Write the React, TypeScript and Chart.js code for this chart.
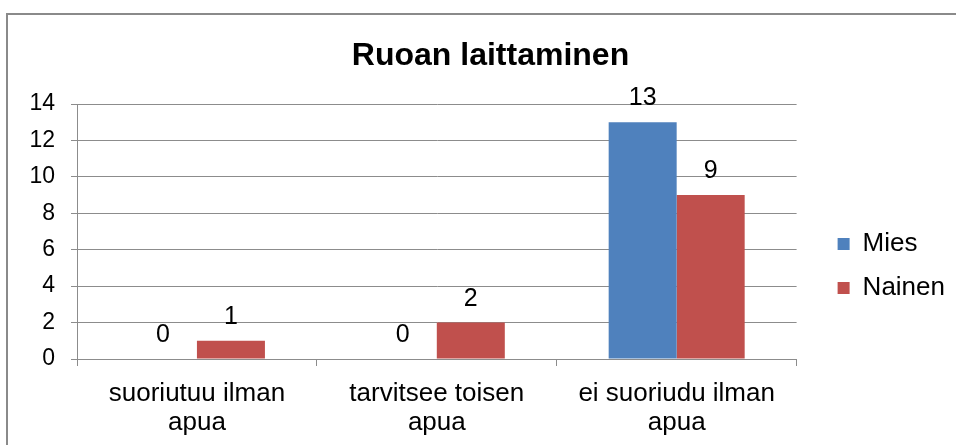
import React, { useEffect, useRef } from "react";
import { Chart, registerables } from "chart.js";

Chart.register(...registerables);

const chartTitle = "Ruoan laittaminen";
const categories: string[][] = [
  ["suoriutuu ilman", "apua"],
  ["tarvitsee toisen", "apua"],
  ["ei suoriudu ilman", "apua"],
];
const seriesNames = ["Mies", "Nainen"];
const miesValues = [0, 0, 13];
const nainenValues = [1, 2, 9];
const seriesColors = ["#4f81bd", "#c0504d"];
const yMin = 0;
const yMax = 14;
const yStep = 2;

const FONT = "'Liberation Sans', Arial, sans-serif";
const GRID = "#8c8c8c";
const CANVAS_W = 955;
const CANVAS_H = 532;

const dataLabels = {
  id: "dataLabels",
  afterDatasetsDraw(chart: any) {
    const ctx = chart.ctx;
    ctx.save();
    ctx.font = `25px ${FONT}`;
    ctx.fillStyle = "#000";
    ctx.textAlign = "center";
    ctx.textBaseline = "alphabetic";
    chart.data.datasets.forEach((ds: any, i: number) => {
      const meta = chart.getDatasetMeta(i);
      meta.data.forEach((el: any, j: number) => {
        ctx.fillText(String(ds.data[j]), el.x, el.y - 17);
      });
    });
    ctx.restore();
  },
};

const whiteBg = {
  id: "whiteBg",
  beforeDraw(chart: any) {
    const ctx = chart.ctx;
    ctx.save();
    ctx.fillStyle = "#fff";
    ctx.fillRect(0, 0, chart.width, chart.height);
    ctx.restore();
  },
};

export default function App() {
  const ref = useRef<HTMLCanvasElement | null>(null);

  useEffect(() => {
    if (!ref.current) return;
    const chart = new Chart(ref.current, {
      type: "bar",
      data: {
        labels: categories,
        datasets: [
          {
            label: seriesNames[0],
            data: miesValues,
            backgroundColor: seriesColors[0],
            borderWidth: 0,
          },
          {
            label: seriesNames[1],
            data: nainenValues,
            backgroundColor: seriesColors[1],
            borderWidth: 0,
          },
        ],
      },
      options: {
        responsive: false,
        animation: false,
        devicePixelRatio: 1,
        layout: { padding: { left: 26, top: 0, right: 0, bottom: 0 } },
        datasets: {
          bar: { categoryPercentage: 0.567, barPercentage: 1 },
        },
        plugins: {
          title: {
            display: true,
            text: chartTitle,
            color: "#000",
            font: { family: FONT, size: 32, weight: "bold", lineHeight: 1.2 },
            padding: { top: 37, bottom: 28.6 },
          },
          legend: {
            display: true,
            position: "right",
            labels: {
              color: "#000",
              font: { family: FONT, size: 26 },
              boxWidth: 12,
              boxHeight: 12,
              padding: 18,
            },
          },
          tooltip: { enabled: false },
        },
        scales: {
          x: {
            grid: {
              display: true,
              drawOnChartArea: false,
              drawTicks: true,
              tickLength: 7,
              color: GRID,
              offset: true,
            },
            border: { display: true, color: GRID },
            ticks: {
              color: "#000",
              font: { family: FONT, size: 26, lineHeight: 1.1 },
              padding: 14,
              maxRotation: 0,
              autoSkip: false,
            },
            afterFit: (s: any) => {
              s.height = CANVAS_H - 359;
            },
          },
          y: {
            min: yMin,
            max: yMax,
            grid: { color: GRID, tickLength: 6, drawTicks: true },
            border: { display: true, color: GRID },
            ticks: {
              stepSize: yStep,
              color: "#000",
              font: { family: FONT, size: 23 },
              padding: 16,
            },
            afterFit: (s: any) => {
              s.width = 77 - 26;
            },
          },
          gap: {
            type: "linear",
            position: "right",
            display: true,
            grid: { display: false },
            border: { display: false },
            ticks: { display: false },
            afterFit: (s: any) => {
              s.width = 23;
            },
          },
        },
      } as any,
      plugins: [whiteBg, dataLabels],
    });
    return () => chart.destroy();
  }, []);

  return (
    <div
      style={{
        position: "fixed",
        left: 0,
        top: 0,
        width: 956,
        height: 445,
        overflow: "hidden",
        background: "#fff",
      }}
    >
      <canvas
        ref={ref}
        width={CANVAS_W}
        height={CANVAS_H}
        style={{ position: "absolute", left: 0, top: 0, width: CANVAS_W, height: CANVAS_H }}
      />
      <div
        style={{
          position: "absolute",
          left: 6,
          top: 13,
          width: 1200,
          height: 800,
          border: "2px solid #8a8a8a",
          pointerEvents: "none",
        }}
      />
    </div>
  );
}
